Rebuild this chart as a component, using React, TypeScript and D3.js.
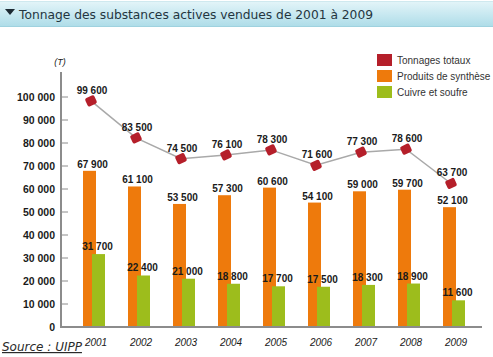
import React from "react";
import * as d3 from "d3";

const years = ["2001", "2002", "2003", "2004", "2005", "2006", "2007", "2008", "2009"];
const totals = [99600, 83500, 74500, 76100, 78300, 71600, 77300, 78600, 63700];
const synthese = [67900, 61100, 53500, 57300, 60600, 54100, 59000, 59700, 52100];
const cuivre = [31700, 22400, 21000, 18800, 17700, 17500, 18300, 18900, 11600];
const yTicks = [0, 10000, 20000, 30000, 40000, 50000, 60000, 70000, 80000, 90000, 100000];
const legendItems = [
  { label: "Tonnages totaux", color: "#b51f2a" },
  { label: "Produits de synthèse", color: "#ee7a0c" },
  { label: "Cuivre et soufre", color: "#9dbd1c" },
];

const fmt = (v: number) => d3.format(",")(v).replace(/,/g, " ");

export default function App() {
  const W = 493, H = 357;
  const x = d3.scaleBand<string>().domain(years).range([71.5, 476.5]).padding(0);
  const y = d3.scaleLinear().domain([0, 100000]).range([327, 97]);
  const bw = 13;
  const orangeX = (yr: string) => (x(yr) as number) + 11.5;
  const greenX = (yr: string) => (x(yr) as number) + 20.5;
  const cx = (yr: string) => (x(yr) as number) + x.bandwidth() / 2;
  const line = d3.line<number>().x((_, i) => orangeX(years[i]) + 8).y((d) => y(d) + 3);
  const numFont = "'Liberation Sans', Arial, sans-serif";

  return (
    <svg width={W} height={H} style={{ position: "absolute", left: 0, top: 0, background: "#fff" }}>
      <defs>
        <linearGradient id="band" x1="0" y1="0" x2="0" y2="1">
          <stop offset="0" stopColor="#e4f5f9" />
          <stop offset="1" stopColor="#addce8" />
        </linearGradient>
      </defs>
      <rect x={0} y={0} width={W} height={H} fill="#fff" />
      <rect x={0} y={1} width={W} height={26} fill="url(#band)" />
      <line x1={0} x2={W} y1={1.5} y2={1.5} stroke="#cfe9ef" />
      <line x1={0} x2={W} y1={26.5} y2={26.5} stroke="#9fd2df" />
      <path d="M5,9 L15,9 L10,15 Z" fill="#1d2a33" />
      <text x={19} y={19} fontFamily="'DejaVu Sans', Verdana, sans-serif" fontSize={12} fill="#24353f" textLength={354} lengthAdjust="spacingAndGlyphs">
        Tonnage des substances actives vendues de 2001 à 2009
      </text>

      {/* y axis */}
      <line x1={61} x2={61} y1={72} y2={328} stroke="#8c8c8c" strokeWidth={2} />
      {yTicks.map((t) => (
        <g key={t}>
          {t > 0 && <line x1={61} x2={68} y1={y(t)} y2={y(t)} stroke="#8c8c8c" strokeWidth={1} />}
          <text x={55} y={y(t) + 4} textAnchor="end" fontFamily={numFont} fontWeight="bold" fontSize={10.5} fill="#1a1a1a">
            {fmt(t)}
          </text>
        </g>
      ))}
      <text x={60} y={65} textAnchor="middle" fontFamily={numFont} fontStyle="italic" fontSize={9} fill="#1a1a1a">(T)</text>

      {/* bars */}
      {years.map((yr, i) => (
        <rect key={"o" + yr} x={orangeX(yr)} y={y(synthese[i])} width={bw} height={y(0) - y(synthese[i])} fill="#ee7a0c" />
      ))}
      {years.map((yr, i) => (
        <rect key={"g" + yr} x={greenX(yr)} y={y(cuivre[i])} width={bw} height={y(0) - y(cuivre[i])} fill="#9dbd1c" />
      ))}

      {/* x axis */}
      <line x1={60} x2={482} y1={327} y2={327} stroke="#8c8c8c" strokeWidth={2} />
      {years.map((yr) => (
        <text key={"yl" + yr} x={cx(yr) + 2} y={346} textAnchor="middle" fontFamily={numFont} fontStyle="italic" fontSize={10} fill="#1a1a1a">
          {yr}
        </text>
      ))}

      {/* bar labels */}
      {years.map((yr, i) => (
        <text key={"ol" + yr} x={orangeX(yr) + bw / 2 + 3} y={y(synthese[i]) - 3} textAnchor="middle" fontFamily={numFont} fontWeight="bold" fontSize={10} fill="#1a1a1a">
          {fmt(synthese[i])}
        </text>
      ))}
      {years.map((yr, i) => (
        <text key={"gl" + yr} x={greenX(yr) + bw / 2 - 1} y={y(cuivre[i]) - 4} textAnchor="middle" fontFamily={numFont} fontWeight="bold" fontSize={10} fill="#1a1a1a">
          {fmt(cuivre[i])}
        </text>
      ))}

      {/* total line */}
      <path d={line(totals) || ""} fill="none" stroke="#a9a9a9" strokeWidth={1.5} />
      {years.map((yr, i) => {
        const px = orangeX(yr) + 8;
        const py = y(totals[i]) + 3;
        return (
          <g key={"m" + yr}>
            <rect x={px - 5} y={py - 4.5} width={10} height={9} rx={2} fill="#b51f2a" transform={`rotate(-25 ${px} ${py})`} />
            <text x={px + 1} y={py - 7} textAnchor="middle" fontFamily={numFont} fontWeight="bold" fontSize={10} fill="#1a1a1a">
              {fmt(totals[i])}
            </text>
          </g>
        );
      })}

      {/* legend */}
      {legendItems.map((it, i) => (
        <g key={it.label}>
          <rect x={377} y={54 + i * 16} width={15} height={12} fill={it.color} />
          <text x={397} y={64 + i * 16} fontFamily={numFont} fontSize={10} fill="#333">
            {it.label}
          </text>
        </g>
      ))}

      <text x={2} y={351} fontFamily="'DejaVu Sans', Verdana, sans-serif" fontStyle="italic" fontSize={12} fill="#2a2a2a" textDecoration="underline">
        Source : UIPP
      </text>
    </svg>
  );
}
